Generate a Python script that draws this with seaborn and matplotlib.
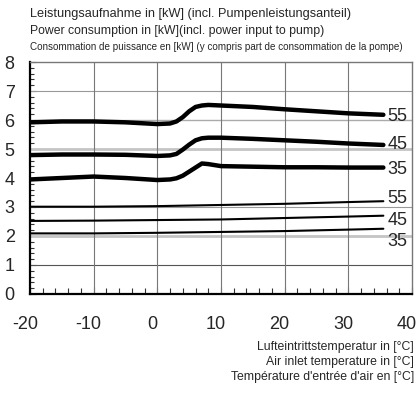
import numpy as np
import pandas as pd
import matplotlib
matplotlib.use("Agg")
import matplotlib.pyplot as plt
import matplotlib.transforms as mtransforms
from matplotlib.ticker import MultipleLocator
import seaborn as sns

# Air inlet temperature readings [°C]
x_thick = [-20, -15, -10, -5, 0, 2, 3, 4, 5, 6, 7, 8, 10, 15, 20, 25, 30, 35.5]
# Power consumption [kW], heavy curves (upper group)
p55_hi = [5.92, 5.95, 5.95, 5.92, 5.86, 5.88, 5.95, 6.10, 6.30, 6.45, 6.50, 6.52, 6.50, 6.45, 6.37, 6.30, 6.23, 6.18]
p45_hi = [4.79, 4.81, 4.81, 4.80, 4.76, 4.78, 4.83, 4.98, 5.15, 5.30, 5.37, 5.39, 5.39, 5.35, 5.30, 5.25, 5.19, 5.14]
p35_hi = [3.95, 4.00, 4.05, 4.00, 3.93, 3.95, 3.99, 4.08, 4.22, 4.36, 4.50, 4.48, 4.41, 4.39, 4.37, 4.37, 4.36, 4.36]

x_thin = [-20, -10, 0, 10, 20, 30, 35.5]
# Power consumption [kW], light curves (lower group)
p55_lo = [3.01, 3.01, 3.03, 3.07, 3.11, 3.17, 3.20]
p45_lo = [2.52, 2.53, 2.55, 2.57, 2.62, 2.67, 2.70]
p35_lo = [2.09, 2.09, 2.11, 2.14, 2.17, 2.22, 2.25]

series_labels = ["55", "45", "35"]

rows = []
for name, vals in zip(series_labels, [p55_hi, p45_hi, p35_hi]):
    for xv, yv in zip(x_thick, vals):
        rows.append({"t": xv, "p": yv, "curve": "hi" + name})
for name, vals in zip(series_labels, [p55_lo, p45_lo, p35_lo]):
    for xv, yv in zip(x_thin, vals):
        rows.append({"t": xv, "p": yv, "curve": "lo" + name})
df = pd.DataFrame(rows)

sns.set_theme(style="white")
plt.rcParams["font.family"] = ["Liberation Sans", "DejaVu Sans"]
plt.rcParams["axes.unicode_minus"] = False

fig = plt.figure(figsize=(4.16, 3.96), dpi=100)
ax = fig.add_axes([0.0721, 0.2576, 0.9183, 0.5858])

# grid lines
for yv, col, lw in [(1, "#555555", 0.8), (2, "#c4c4c4", 2.0), (3, "#999999", 0.8),
                    (5, "#c4c4c4", 2.0), (6, "#aaaaaa", 1.0), (7, "#999999", 0.8)]:
    ax.axhline(yv, color=col, lw=lw, zorder=1)
for xv in [-10, 0, 10, 20, 30]:
    ax.axvline(xv, color="#777777", lw=0.8, zorder=1)

hi = df[df["curve"].str.startswith("hi")]
lo = df[df["curve"].str.startswith("lo")]
sns.lineplot(data=hi, x="t", y="p", units="curve", estimator=None, color="black",
             lw=3.2, ax=ax, legend=False, zorder=3, solid_capstyle="round")
sns.lineplot(data=lo, x="t", y="p", units="curve", estimator=None, color="black",
             lw=1.5, ax=ax, legend=False, zorder=3)

# curve labels at the right end
for name, vals, dy in zip(series_labels, [p55_hi, p45_hi, p35_hi], [-0.07, 0.0, -0.08]):
    ax.text(x_thick[-1] + 0.7, vals[-1] + dy, name, fontsize=13, va="center", ha="left")
for name, vals, dy in zip(series_labels, [p55_lo, p45_lo, p35_lo], [0.11, -0.15, -0.45]):
    ax.text(x_thin[-1] + 0.7, vals[-1] + dy, name, fontsize=13, va="center", ha="left")

ax.set_xlim(-20, 40)
ax.set_ylim(0, 8)
ax.xaxis.set_major_locator(MultipleLocator(10))
ax.xaxis.set_minor_locator(MultipleLocator(2))
ax.yaxis.set_major_locator(MultipleLocator(1))
ax.yaxis.set_minor_locator(MultipleLocator(0.2))
ax.tick_params(axis="x", which="both", direction="in", bottom=True, labelsize=13, pad=16,
               color="#333333")
ax.tick_params(axis="x", which="major", length=5, width=0.8)
ax.tick_params(axis="x", which="minor", length=4, width=0.8)
ax.tick_params(axis="y", which="both", direction="in", left=True, labelsize=13, pad=11,
               color="#333333")
ax.tick_params(axis="y", which="major", length=4, width=0.8)
ax.tick_params(axis="y", which="minor", length=3, width=0.8)
ax.set_xlabel("")
ax.set_ylabel("")

# x tick labels sit slightly left of their ticks
shift = mtransforms.ScaledTranslation(-5 / 100, 0, fig.dpi_scale_trans)
for lab in ax.get_xticklabels():
    lab.set_transform(lab.get_transform() + shift)

for side in ["left", "bottom"]:
    ax.spines[side].set_color("black")
    ax.spines[side].set_linewidth(1.6)
for side in ["top", "right"]:
    ax.spines[side].set_color("#777777")
    ax.spines[side].set_linewidth(1.0)

# header text
fig.text(30 / 416, 1 - 17 / 396, "Leistungsaufnahme in [kW] (incl. Pumpenleistungsanteil)",
         fontsize=9.2, ha="left", va="baseline")
fig.text(30 / 416, 1 - 34 / 396, "Power consumption in [kW](incl. power input to pump)",
         fontsize=8.8, ha="left", va="baseline")
fig.text(30 / 416, 1 - 50 / 396,
         "Consommation de puissance en [kW] (y compris part de consommation de la pompe)",
         fontsize=7.15, ha="left", va="baseline")

# axis caption, bottom right
for i, line in enumerate(["Lufteintrittstemperatur in [°C]", "Air inlet temperature in [°C]",
                          "Température d'entrée d'air en [°C]"]):
    fig.text(414 / 416, 1 - (350 + 15 * i) / 396, line, fontsize=8.8, ha="right",
             va="baseline")

fig.savefig("out.png", dpi=100)
